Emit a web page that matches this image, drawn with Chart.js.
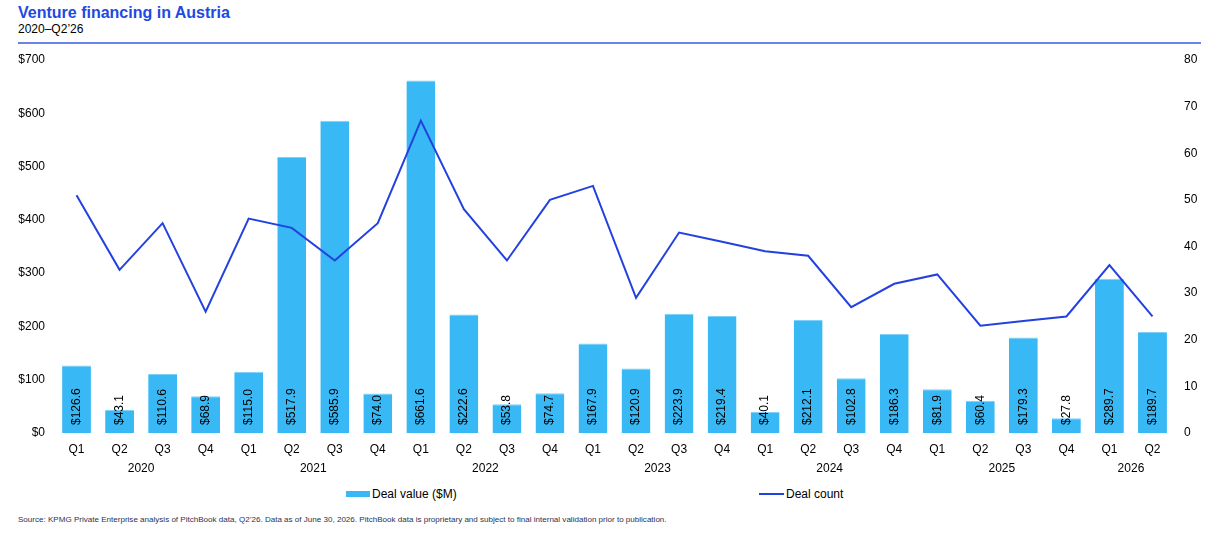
<!DOCTYPE html>
<html>
<head>
<meta charset="utf-8">
<script src="https://cdn.jsdelivr.net/npm/chart.js@4.4.1/dist/chart.umd.min.js"></script>
<style>
  html, body { margin: 0; padding: 0; background: #ffffff; }
  body { width: 1217px; height: 540px; position: relative; overflow: hidden; font-family: "Liberation Sans", Arial, sans-serif; }
  #title { position: absolute; left: 18px; top: 4px; font-size: 16px; font-weight: bold; color: #1E49E2; }
  #subtitle { position: absolute; left: 18px; top: 22px; font-size: 12px; color: #000; }
  #rule { position: absolute; left: 18px; top: 42px; width: 1183px; height: 2px; background: #6A82EC; }
  #wrap { position: absolute; left: 0; top: 48px; width: 1217px; height: 428px; }
  .leg { position: absolute; top: 487px; font-size: 12px; color: #000; display: flex; align-items: center; white-space: nowrap; }
  .leg .sw { display: inline-block; margin-right: 2px; }
  #source { position: absolute; left: 18px; top: 515px; font-size: 8.05px; color: #2B3350; white-space: nowrap; }
</style>
</head>
<body>
<div id="title">Venture financing in Austria</div>
<div id="subtitle">2020–Q2’26</div>
<div id="rule"></div>
<div id="wrap"><canvas id="c"></canvas></div>
<div class="leg" style="left:346px;"><span class="sw" style="width:24px;height:6px;background:#38B8F4;"></span>Deal value ($M)</div>
<div class="leg" style="left:759px;"><span class="sw" style="width:25px;height:2px;background:#2341DF;"></span>Deal count</div>
<div id="source">Source: KPMG Private Enterprise analysis of PitchBook data, Q2’26. Data as of June 30, 2026. PitchBook data is proprietary and subject to final internal validation prior to publication.</div>

<script>
// ---- Data ----
const quarters = ["Q1","Q2","Q3","Q4","Q1","Q2","Q3","Q4","Q1","Q2","Q3","Q4","Q1","Q2","Q3","Q4","Q1","Q2","Q3","Q4","Q1","Q2","Q3","Q4","Q1","Q2"];
const years = ["2020","2021","2022","2023","2024","2025","2026"];
const quartersPerYear = [4,4,4,4,4,4,2];
const dealValue = [126.6,43.1,110.6,68.9,115.0,517.9,585.9,74.0,661.6,222.6,53.8,74.7,167.9,120.9,223.9,219.4,40.1,212.1,102.8,186.3,81.9,60.4,179.3,27.8,289.7,189.7];
const dealCount = [51,35,45,26,46,44,37,45,67,48,37,50,53,29,43,41,39,38,27,32,34,23,24,25,36,25];
const leftTicks = [0,100,200,300,400,500,600,700];
const rightTicks = [0,10,20,30,40,50,60,70,80];

// centre of each year group, in category-index units
const yearCenters = [];
{ let start = 0; quartersPerYear.forEach(n => { yearCenters.push(start + (n - 1) / 2); start += n; }); }

const barLabels = {
  id: 'barLabels',
  afterDatasetsDraw(chart) {
    const meta = chart.getDatasetMeta(0);
    const ctx = chart.ctx;
    ctx.save();
    ctx.font = '12px "Liberation Sans", Arial, sans-serif';
    ctx.fillStyle = '#000';
    ctx.textAlign = 'left';
    ctx.textBaseline = 'middle';
    meta.data.forEach((bar, i) => {
      ctx.save();
      ctx.translate(bar.x, bar.base - 8);
      ctx.rotate(-Math.PI / 2);
      ctx.fillText('$' + dealValue[i].toFixed(1), 0, 0);
      ctx.restore();
    });
    ctx.restore();
  }
};

const font12 = { family: '"Liberation Sans", Arial, sans-serif', size: 12 };
const noGrid = { display: false, drawTicks: false };
const noPad = (s) => { s.paddingLeft = 0; s.paddingRight = 0; s.paddingTop = 0; s.paddingBottom = 0; };

new Chart(document.getElementById('c'), {
  type: 'bar',
  data: {
    labels: quarters,
    datasets: [
      {
        label: 'Deal value ($M)',
        data: dealValue,
        backgroundColor: '#38B8F4',
        borderColor: '#7FD0F7',
        borderWidth: { top: 1, left: 0, right: 0, bottom: 0 },
        categoryPercentage: 1.0,
        barPercentage: 0.67,
        yAxisID: 'y',
        order: 1
      },
      {
        type: 'line',
        label: 'Deal count',
        data: dealCount,
        borderColor: '#2341DF',
        borderWidth: 2,
        pointRadius: 0,
        tension: 0,
        fill: false,
        yAxisID: 'y1',
        order: 0
      }
    ]
  },
  options: {
    responsive: true,
    maintainAspectRatio: false,
    animation: false,
    layout: { padding: { left: 18, right: 19, top: 12, bottom: 0 } },
    plugins: { legend: { display: false }, tooltip: { enabled: false } },
    scales: {
      x: {
        type: 'category',
        position: 'bottom',
        weight: 0,
        offset: true,
        grid: { display: false, drawTicks: false, offset: true },
        border: { display: false },
        ticks: { color: '#000', font: font12, padding: 9, maxRotation: 0, autoSkip: false },
        afterFit: (s) => { noPad(s); s.height = 23; }
      },
      x2: {
        type: 'linear',
        position: 'bottom',
        weight: 1,
        offset: false,
        min: -0.5,
        max: quarters.length - 0.5,
        grid: { display: false, drawTicks: false, offset: false },
        border: { display: false },
        afterBuildTicks: (scale) => { scale.ticks = yearCenters.map(v => ({ value: v })); },
        ticks: {
          color: '#000', font: font12, padding: 5, maxRotation: 0, autoSkip: false,
          callback: (v) => { const i = yearCenters.indexOf(v); return i >= 0 ? years[i] : ''; }
        },
        afterFit: (s) => { noPad(s); s.height = 20; }
      },
      y: {
        position: 'left',
        min: 0, max: 700,
        afterBuildTicks: (scale) => { scale.ticks = leftTicks.map(v => ({ value: v })); },
        grid: noGrid,
        border: { display: false },
        ticks: { color: '#000', font: font12, padding: 10, callback: (v) => '$' + v },
        afterFit: (s) => { noPad(s); s.width = 37; }
      },
      y1: {
        position: 'right',
        min: 0, max: 80,
        afterBuildTicks: (scale) => { scale.ticks = rightTicks.map(v => ({ value: v })); },
        grid: noGrid,
        border: { display: false },
        ticks: { color: '#000', font: font12, padding: 10 },
        afterFit: (s) => { noPad(s); s.width = 24; }
      }
    }
  },
  plugins: [barLabels]
});
</script>
</body>
</html>
